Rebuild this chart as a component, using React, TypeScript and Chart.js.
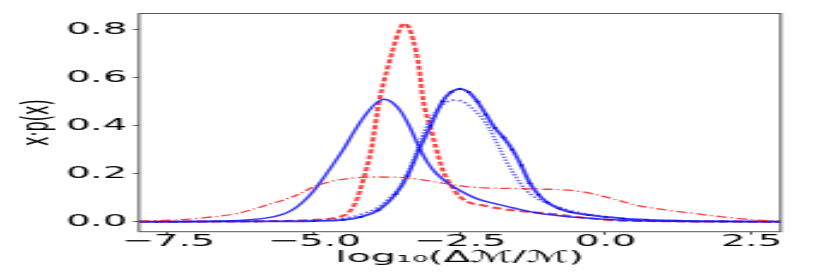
import React, { useEffect, useRef } from "react";
import { Chart, registerables } from "chart.js";

Chart.register(...registerables);

// Red dashed (tall, narrow peak)
const redDashX = [-8, -6, -5, -4.6, -4.4, -4.27, -4.15, -4.02, -3.88, -3.75, -3.65, -3.55, -3.46, -3.38, -3.3, -3.2, -3.13, -3.0, -2.9, -2.8, -2.675, -2.5, -2.3, -2.1, -1.9, -1.5, -1.0, -0.5, 0, 1, 3];
const redDashY = [0, 0.002, 0.008, 0.018, 0.04, 0.09, 0.18, 0.3, 0.506, 0.63, 0.715, 0.79, 0.825, 0.81, 0.756, 0.64, 0.506, 0.39, 0.3, 0.22, 0.16, 0.104, 0.077, 0.068, 0.058, 0.045, 0.035, 0.02, 0.008, 0.002, 0];

// Red dash-dot (broad)
const redDashDotX = [-8, -7.5, -7, -6.3, -5.8, -5.3, -5.0, -4.7, -4.4, -4.0, -3.6, -3.25, -2.9, -2.6, -2.2, -1.8, -1.5, -1.0, -0.5, -0.2, 0.2, 0.5, 1.0, 1.5, 2.0, 2.6, 3];
const redDashDotY = [0.003, 0.006, 0.014, 0.035, 0.07, 0.11, 0.146, 0.168, 0.18, 0.186, 0.185, 0.178, 0.165, 0.153, 0.142, 0.139, 0.138, 0.135, 0.128, 0.115, 0.09, 0.07, 0.05, 0.035, 0.02, 0.007, 0.002];

// Blue thin solid
const blueThinX = [-8, -7, -6.5, -6.1, -5.8, -5.6, -5.4, -5.2, -5.0, -4.8, -4.5, -4.3, -4.1, -3.95, -3.8, -3.65, -3.5, -3.35, -3.2, -3.05, -2.9, -2.7, -2.5, -2.2, -1.9, -1.6, -1.2, -0.8, -0.4, 0, 0.5, 1, 2, 3];
const blueThinY = [0, 0.001, 0.003, 0.008, 0.016, 0.026, 0.045, 0.08, 0.13, 0.195, 0.3, 0.38, 0.45, 0.49, 0.51, 0.495, 0.455, 0.39, 0.31, 0.245, 0.2, 0.16, 0.13, 0.095, 0.075, 0.058, 0.037, 0.025, 0.016, 0.01, 0.004, 0.002, 0.001, 0];

// Blue thick solid with markers
const blueThickX = [-8, -6, -5, -4.5, -4.2, -3.9, -3.6, -3.4, -3.2, -3.0, -2.8, -2.65, -2.5, -2.35, -2.2, -2.05, -1.9, -1.75, -1.6, -1.45, -1.3, -1.15, -1.0, -0.8, -0.6, -0.3, 0, 0.3, 0.7, 1.2, 2, 3];
const blueThickY = [0, 0.001, 0.003, 0.008, 0.02, 0.048, 0.115, 0.19, 0.3, 0.4, 0.5, 0.54, 0.553, 0.54, 0.5, 0.445, 0.39, 0.35, 0.3, 0.235, 0.16, 0.112, 0.08, 0.055, 0.04, 0.028, 0.02, 0.013, 0.008, 0.004, 0.001, 0];

// Blue dotted
const blueDotX = [-8, -6, -5, -4.5, -4.2, -3.9, -3.7, -3.5, -3.3, -3.1, -2.9, -2.75, -2.6, -2.45, -2.3, -2.15, -2.0, -1.85, -1.7, -1.55, -1.4, -1.2, -1.0, -0.8, -0.5, -0.2, 0.2, 0.6, 1.0, 1.5, 2, 3];
const blueDotY = [0, 0.002, 0.006, 0.014, 0.03, 0.06, 0.1, 0.155, 0.255, 0.38, 0.46, 0.495, 0.506, 0.5, 0.475, 0.44, 0.39, 0.32, 0.25, 0.19, 0.14, 0.1, 0.077, 0.06, 0.04, 0.028, 0.015, 0.008, 0.005, 0.002, 0.001, 0];

const xTicks = [-7.5, -5, -2.5, 0, 2.5];
const xTickLabels = ["\u22127.5", "\u22125.0", "\u22122.5", "0.0", "2.5"];
const yTicks = [0, 0.2, 0.4, 0.6, 0.8];
const yTickLabels = ["0.0", "0.2", "0.4", "0.6", "0.8"];
const xTitle = "log\u2081\u2080(\u0394\u2133/\u2133)";
const yTitle = "x\u00b7p(x)";

const STRETCH = 822 / 342;
const FONT = "'DejaVu Sans', sans-serif";
const SPINE = "#555555";

const toPts = (xs: number[], ys: number[]) => xs.map((x, i) => ({ x, y: ys[i] }));

const framePlugin = {
  id: "frame",
  afterDraw(chart: any) {
    const { ctx, chartArea } = chart;
    const { left, top, right, bottom } = chartArea;
    ctx.save();
    ctx.strokeStyle = SPINE;
    ctx.lineWidth = 1;
    ctx.strokeRect(left, top, right - left, bottom - top);
    ctx.restore();
  },
};

export default function App() {
  const ref = useRef<HTMLCanvasElement | null>(null);

  useEffect(() => {
    if (!ref.current) return;
    const common = {
      fill: false,
      cubicInterpolationMode: "monotone" as const,
      pointRadius: 0,
      pointHoverRadius: 0,
    };
    const chart = new Chart(ref.current, {
      type: "line",
      data: {
        datasets: [
          {
            ...common,
            label: "red dash-dot",
            data: toPts(redDashDotX, redDashDotY),
            borderColor: "rgba(255,30,30,0.85)",
            borderWidth: 1.3,
            borderDash: [4.5, 1.6, 1, 1.6],
          },
          {
            ...common,
            label: "blue thin",
            data: toPts(blueThinX, blueThinY),
            borderColor: "rgba(20,20,255,0.85)",
            borderWidth: 1.5,
          },
          {
            ...common,
            label: "blue dotted",
            data: toPts(blueDotX, blueDotY),
            borderColor: "rgba(50,50,255,0.72)",
            borderWidth: 1.7,
            borderDash: [1.5, 1.5],
          },
          {
            ...common,
            label: "blue thick",
            data: toPts(blueThickX, blueThickY),
            borderColor: "rgba(20,20,255,0.85)",
            borderWidth: 1.8,
            pointRadius: 1,
            pointBackgroundColor: "#0a0ad0",
            pointBorderWidth: 0,
          },
          {
            ...common,
            label: "red dashed",
            data: toPts(redDashX, redDashY),
            borderColor: "rgba(255,30,30,0.85)",
            borderWidth: 2,
            borderDash: [4, 2],
          },
        ],
      },
      options: {
        animation: false,
        responsive: true,
        maintainAspectRatio: false,
        devicePixelRatio: 1,
        layout: { padding: { left: 0, right: 17.2, top: 13.5, bottom: 0 } },
        plugins: {
          legend: { display: false },
          tooltip: { enabled: false },
        },
        scales: {
          x: {
            type: "linear",
            min: -8,
            max: 3,
            afterBuildTicks: (scale: any) => {
              scale.ticks = xTicks.map((v) => ({ value: v }));
            },
            afterFit: (scale: any) => {
              scale.height = 41.3;
            },
            ticks: {
              autoSkip: false,
              maxRotation: 0,
              minRotation: 0,
              padding: -1,
              color: "#000",
              font: { family: FONT, size: 16, lineHeight: 1 },
              callback: (v: any) => {
                const i = xTicks.indexOf(Number(v));
                return i >= 0 ? xTickLabels[i] : "";
              },
            },
            grid: {
              display: true,
              drawOnChartArea: false,
              drawTicks: true,
              tickLength: 3,
              color: SPINE,
            },
            border: { display: false },
            title: {
              display: true,
              text: xTitle,
              color: "#000",
              font: { family: FONT, size: 16.5 },
              padding: { top: 0, bottom: 5.5 },
            },
          },
          y: {
            type: "linear",
            min: -0.0416,
            max: 0.8666,
            afterBuildTicks: (scale: any) => {
              scale.ticks = yTicks.map((v) => ({ value: v }));
            },
            afterFit: (scale: any) => {
              scale.width = 57.83;
            },
            ticks: {
              autoSkip: false,
              padding: 2.5,
              color: "#000",
              font: { family: FONT, size: 16 },
              callback: (v: any) => {
                const n = Number(v);
                const i = yTicks.findIndex((t) => Math.abs(t - n) < 1e-9);
                return i >= 0 ? yTickLabels[i] : "";
              },
            },
            grid: {
              display: true,
              drawOnChartArea: false,
              drawTicks: true,
              tickLength: 2.5,
              color: SPINE,
            },
            border: { display: false },
            title: {
              display: true,
              text: yTitle,
              color: "#000",
              font: { family: FONT, size: 16 },
              padding: { top: 6, bottom: 0 },
            },
          },
        },
      },
      plugins: [framePlugin],
    });
    return () => chart.destroy();
  }, []);

  return (
    <div
      style={{
        position: "absolute",
        left: 0,
        top: 0,
        width: 342,
        height: 273,
        transform: `scaleX(${STRETCH})`,
        transformOrigin: "0 0",
      }}
    >
      <canvas ref={ref} />
    </div>
  );
}
